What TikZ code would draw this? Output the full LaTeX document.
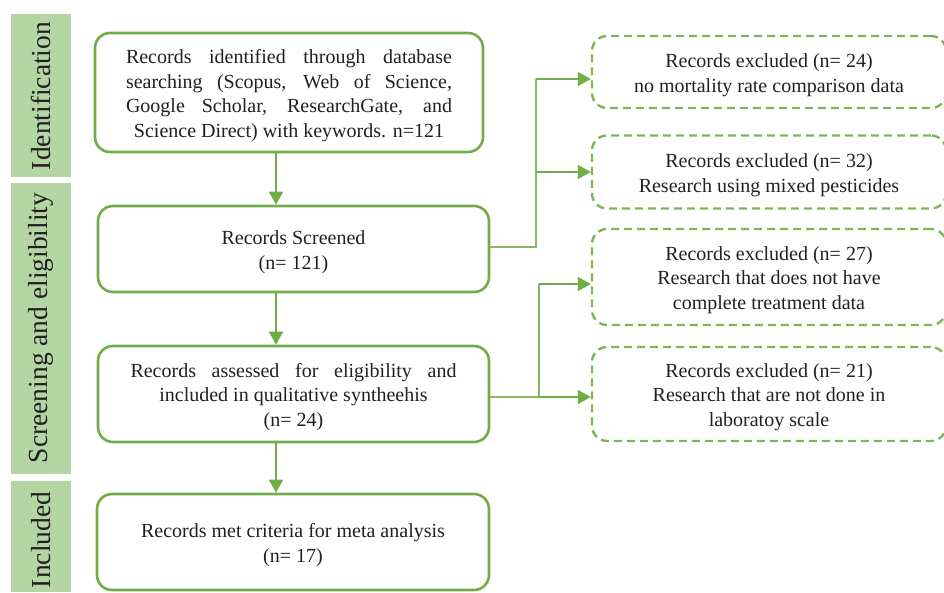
\documentclass[tikz,border=0pt]{standalone}
\usepackage{fontspec}
\setmainfont{Liberation Serif}
\usetikzlibrary{arrows.meta,calc}
\definecolor{grn}{HTML}{70AD47}
\definecolor{side}{HTML}{B4D6A4}
\definecolor{txt}{HTML}{231F20}
\tikzset{
  mainbox/.style={draw=grn, line width=2.6pt, rounded corners=15pt, fill=white, text=txt,
    font=\fontsize{20}{24.5}\selectfont, align=center, inner sep=0pt},
  exbox/.style={draw=grn!90, line width=2.4pt, dash pattern=on 8pt off 5pt, rounded corners=15pt, text=txt,
    font=\fontsize{20}{24.5}\selectfont, align=center, inner sep=0pt},
  sidebox/.style={fill=side, draw=none},
  sidetext/.style={rotate=90, text=txt, font=\fontsize{27.5}{30}\selectfont, inner sep=0pt},
  arr/.style={draw=grn, line width=1.8pt, -{Triangle[length=13pt,width=14pt]}},
  conn/.style={draw=grn!85, line width=1.8pt},
}
\newcommand{\jl}[1]{\makebox[326pt][s]{#1}}
\newcommand{\tp}{\rule{0pt}{20pt}}
\begin{document}
\begin{tikzpicture}[x=1pt,y=-1pt]
\useasboundingbox (0,0) rectangle (944,592);
% sidebar
\node[sidebox, minimum width=60pt, minimum height=163pt, anchor=north west] (s1) at (11,14) {};
\node[sidebox, minimum width=60pt, minimum height=291pt, anchor=north west] (s2) at (11,183) {};
\node[sidebox, minimum width=60pt, minimum height=111pt, anchor=north west] (s3) at (11,481) {};
\node[sidetext] (t1) at (41,96) {Identification};
\node[sidetext] (t2) at (41,328) {Screening and eligibility};
\node[sidetext] (t3) at (41,540) {Included};
% main boxes
\node[mainbox, minimum width=388pt, minimum height=119pt] (b1) at (289,92.5)
  {\tp\jl{Records identified through database}\\
   \jl{searching (Scopus, Web of Science,}\\
   \jl{Google Scholar, ResearchGate, and}\\
   Science Direct) with keywords. n=121};
\node[mainbox, minimum width=391pt, minimum height=86pt] (b2) at (293.5,249)
  {\tp Records Screened\\(n= 121)};
\node[mainbox, minimum width=391pt, minimum height=96pt] (b3) at (293.5,394)
  {\tp\jl{Records assessed for eligibility and}\\
   included in qualitative syntheehis\\(n= 24)};
\node[mainbox, minimum width=392pt, minimum height=96pt] (b4) at (293,542)
  {\tp Records met criteria for meta analysis\\(n= 17)};
% excluded boxes
\node[exbox, minimum width=354pt, minimum height=72pt] (eA) at (769,72)
  {\tp Records excluded (n= 24)\\no mortality rate comparison data};
\node[exbox, minimum width=354pt, minimum height=73pt] (eB) at (769,172)
  {\tp Records excluded (n= 32)\\Research using mixed pesticides};
\node[exbox, minimum width=354pt, minimum height=96pt] (eC) at (769,277)
  {\tp Records excluded (n= 27)\\Research that does not have\\complete treatment data};
\node[exbox, minimum width=354pt, minimum height=94pt] (eD) at (769,394)
  {\tp Records excluded (n= 21)\\Research that are not done in\\laboratoy scale};
% vertical arrows
\coordinate (ax) at (276,0);
\draw[arr] (b1.south -| ax) -- (b2.north -| ax);
\draw[arr] (b2.south -| ax) -- (b3.north -| ax);
\draw[arr] (b3.south -| ax) -- (b4.north -| ax);
% right connectors
\coordinate (j1) at (536,0);
\coordinate (j2) at (539,0);
\coordinate (aA) at ($(eA.west)+(0,7)$);
\coordinate (aC) at ($(eC.west)+(0,7)$);
\coordinate (b2e) at ($(b2.east)+(0,-2)$);
\coordinate (b3e) at ($(b3.east)+(0,3)$);
\draw[conn] (b2e) -| (j1 |- aA);
\draw[arr] (j1 |- aA) -- (aA);
\draw[arr] (j1 |- eB.west) -- (eB.west);
\draw[conn] (b3e) -- (j2 |- b3e);
\draw[arr] (j2 |- b3e) -- (b3e -| eD.west);
\draw[conn] (j2 |- b3e) -- (j2 |- aC);
\draw[arr] (j2 |- aC) -- (aC);
\end{tikzpicture}
\end{document}
